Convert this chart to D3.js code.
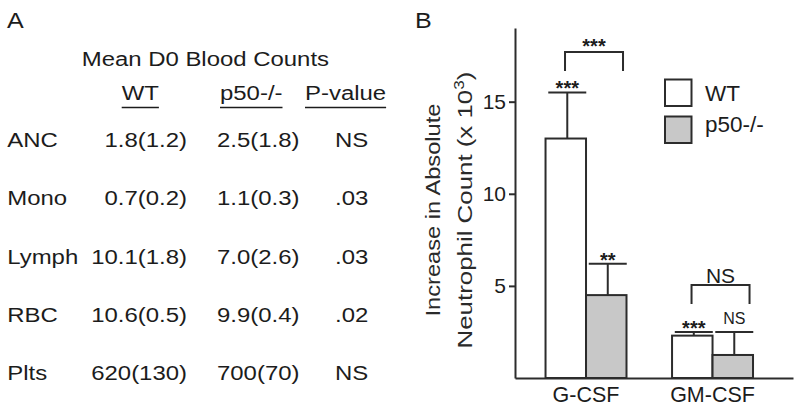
<!DOCTYPE html>
<html><head><meta charset="utf-8">
<script src="https://cdn.jsdelivr.net/npm/d3@7/dist/d3.min.js"></script>
<style>
body{margin:0;background:#fff}
svg{display:block;font-family:"Liberation Sans",Arial,Helvetica,sans-serif}
</style>
</head><body>
<svg id="c" width="799" height="413"></svg>
<script>
// ---------- Panel A data ----------
const tableTitle = "Mean D0 Blood Counts";
const tableHeaders = ["WT", "p50-/-", "P-value"];
const rowLabels = ["ANC", "Mono", "Lymph", "RBC", "Plts"];
const wtCounts = ["1.8(1.2)", "0.7(0.2)", "10.1(1.8)", "10.6(0.5)", "620(130)"];
const p50Counts = ["2.5(1.8)", "1.1(0.3)", "7.0(2.6)", "9.9(0.4)", "700(70)"];
const pValues = ["NS", ".03", ".03", ".02", "NS"];

// ---------- Panel B data ----------
const categories = ["G-CSF", "GM-CSF"];
const seriesNames = ["WT", "p50-/-"];
const wtMeans = [13.0, 2.3];
const p50Means = [4.5, 1.25];
const wtErr = [2.5, 0.2];
const p50Err = [1.7, 1.25];
const wtSig = ["***", "***"];
const p50Sig = ["**", "NS"];
const groupSig = ["***", "NS"];
const groupSigLevel = [17.7, 5.05];
const yTicks = [5, 10, 15];
const yMax = 19;

const svg = d3.select("#c");
svg.append("rect").attr("width", 799).attr("height", 413).attr("fill", "#fff");
const ink = "#1c1c1c", stroke = "#2c2c2c";
const SX = 1.14;

function stext(g, x, y, str, size, anchor) {
  return g.append("text")
    .attr("transform", `translate(${x},${y}) scale(${SX},1)`)
    .attr("font-size", size)
    .attr("text-anchor", anchor || "start")
    .attr("fill", ink)
    .text(str);
}

// ================= Panel A =================
const A = svg.append("g");
stext(A, 7, 28.3, "A", 22);
stext(A, 81.7, 65.7, tableTitle, 21);

const headerX = [121.7, 220, 305];
tableHeaders.forEach((h, i) => {
  const t = stext(A, headerX[i], 100, h, 21);
  const len = t.node().getComputedTextLength() * SX;
  A.append("line")
    .attr("x1", headerX[i]).attr("x2", headerX[i] + len)
    .attr("y1", 107.5).attr("y2", 107.5)
    .attr("stroke", ink).attr("stroke-width", 1.6);
});

const rowY = d3.scalePoint().domain(rowLabels).range([147, 380.3]);
rowLabels.forEach((r, i) => {
  const y = rowY(r);
  stext(A, 7.3, y, r, 21);
  stext(A, 187, y, wtCounts[i], 21, "end");
  stext(A, 217, y, p50Counts[i], 21);
  stext(A, 335, y, pValues[i], 21);
});

// ================= Panel B =================
const B = svg.append("g");
stext(B, 415, 28.3, "B", 22);

const y = d3.scaleLinear().domain([0, yMax]).range([378, 28]);
const x0 = d3.scaleBand().domain(categories).range([515, 793])
  .paddingInner(0.36).paddingOuter(0.2787).align(0.433);
const x1 = d3.scaleBand().domain(seriesNames).range([0, x0.bandwidth()]);

const means = [wtMeans, p50Means];
const errs = [wtErr, p50Err];
const sigs = [wtSig, p50Sig];
const fills = ["#ffffff", "#c8c8c8"];

// bars
categories.forEach((c, ci) => {
  seriesNames.forEach((s, si) => {
    const bx = x0(c) + x1(s);
    const bw = x1.bandwidth();
    B.append("rect")
      .attr("x", bx).attr("y", y(means[si][ci]))
      .attr("width", bw).attr("height", y(0) - y(means[si][ci]))
      .attr("fill", fills[si]).attr("stroke", stroke).attr("stroke-width", 2);
  });
});

// error bars + per-bar significance
categories.forEach((c, ci) => {
  seriesNames.forEach((s, si) => {
    const cx = x0(c) + x1(s) + x1.bandwidth() / 2 + 1.5;
    const top = y(means[si][ci] + errs[si][ci]);
    B.append("line").attr("x1", cx).attr("x2", cx)
      .attr("y1", y(means[si][ci])).attr("y2", top)
      .attr("stroke", stroke).attr("stroke-width", 2);
    B.append("line").attr("x1", cx - 19).attr("x2", cx + 19)
      .attr("y1", top).attr("y2", top)
      .attr("stroke", stroke).attr("stroke-width", 2);
    const lab = sigs[si][ci];
    const isStar = lab.indexOf("*") >= 0;
    B.append("text")
      .attr("x", cx).attr("y", isStar ? top + 3 : top - 8)
      .attr("text-anchor", "middle")
      .attr("font-size", isStar ? 20 : 16)
      .attr("font-weight", isStar ? "bold" : "normal")
      .attr("fill", ink).text(lab);
  });
});

// group brackets
categories.forEach((c, ci) => {
  const gc = x0(c) + x0.bandwidth() / 2;
  const xl = gc - 21, xr = gc + 37;
  const ty = y(groupSigLevel[ci]);
  B.append("path")
    .attr("d", `M${xl},${ty + 19}V${ty}H${xr}V${ty + 19}`)
    .attr("fill", "none").attr("stroke", stroke).attr("stroke-width", 2);
  const lab = groupSig[ci];
  const isStar = lab.indexOf("*") >= 0;
  B.append("text")
    .attr("x", (xl + xr) / 2).attr("y", isStar ? ty + 1 : ty - 2)
    .attr("text-anchor", "middle")
    .attr("font-size", isStar ? 20 : 21)
    .attr("font-weight", isStar ? "bold" : "normal")
    .attr("fill", ink).text(lab);
});

// axes
const yAxis = B.append("g").attr("transform", "translate(515,0)")
  .call(d3.axisLeft(y).tickValues(yTicks).tickSize(6).tickSizeOuter(0).tickPadding(3).tickFormat(d3.format("d")));
yAxis.select(".domain").attr("stroke", stroke).attr("stroke-width", 2);
yAxis.selectAll(".tick line").attr("stroke", stroke).attr("stroke-width", 2);
yAxis.selectAll(".tick text").attr("font-size", 21).attr("fill", ink)
  .attr("font-family", "Liberation Sans, Arial, sans-serif");

const xAxis = B.append("g").attr("transform", "translate(0,378)")
  .call(d3.axisBottom(x0).tickSize(0).tickSizeOuter(0).tickPadding(9));
xAxis.select(".domain").attr("stroke", stroke).attr("stroke-width", 2);
xAxis.selectAll(".tick text").attr("font-size", 21.5).attr("fill", ink)
  .attr("font-family", "Liberation Sans, Arial, sans-serif");

// y label (two lines)
function fitRot(t, cx, cy, target) {
  const len = t.node().getComputedTextLength();
  t.attr("transform", `translate(${cx},${cy}) rotate(-90) scale(${target / len},1)`);
}
const yl1 = B.append("text").attr("font-size", 21).attr("text-anchor", "middle")
  .attr("fill", "#2a2a2a").text("Increase in Absolute");
fitRot(yl1, 440, 210, 213);
const yl2 = B.append("text").attr("font-size", 21).attr("text-anchor", "middle")
  .attr("fill", "#2a2a2a");
yl2.append("tspan").text("Neutrophil Count (x 10");
yl2.append("tspan").attr("font-size", 14).attr("dy", -8).text("3");
yl2.append("tspan").attr("dy", 8).text(")");
fitRot(yl2, 471.5, 210, 277);

// legend
const leg = B.append("g");
const legY = [79.5, 116.5];
const legTextY = [100.7, 131.7];
seriesNames.forEach((s, i) => {
  leg.append("rect").attr("x", 665).attr("y", legY[i]).attr("width", 26.5).attr("height", 26.5)
    .attr("fill", fills[i]).attr("stroke", stroke).attr("stroke-width", 2);
  leg.append("text").attr("x", 705).attr("y", legTextY[i]).attr("font-size", 22.5)
    .attr("fill", ink).text(s);
});
</script>
</body></html>
